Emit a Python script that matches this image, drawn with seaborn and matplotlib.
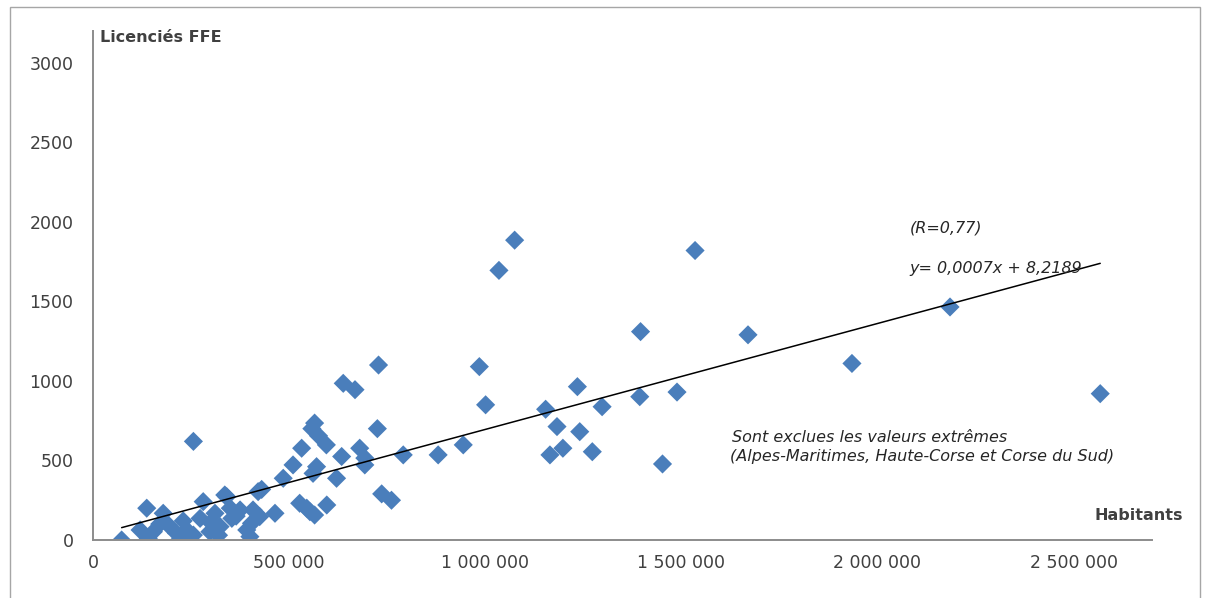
#!/usr/bin/env python3
# Licenciés FFE vs habitants par département

import pandas as pd
import matplotlib.pyplot as plt
import matplotlib.ticker as mticker
from matplotlib.patches import Rectangle
import seaborn as sns

# ---------data-----------------------------------------------------------------
habitants = [
    73000, 120000, 137000, 141000, 154000, 170000, 179000, 192000, 213000, 222000,
    230000, 239000, 256000, 256000, 273000, 281000, 298000, 300000, 311000, 320000,
    324000, 336000, 341000, 350000, 354000, 365000, 375000, 392000, 400000, 404000,
    408000, 421000, 425000, 430000, 464000, 485000, 510000, 527000, 532000, 545000,
    553000, 558000, 561000, 565000, 565000, 570000, 575000, 595000, 596000, 621000,
    634000, 638000, 668000, 680000, 693000, 693000, 725000, 728000, 736000, 761000,
    791000, 880000, 944000, 985000, 1001000, 1035000, 1075000, 1154000, 1165000, 1183000,
    1198000, 1235000, 1241000, 1273000, 1298000, 1394000, 1396000, 1452000, 1489000, 1535000,
    1670000, 1935000, 2185000, 2568000,
]
licencies = [
    0, 63, 200, 10, 52, 100, 168, 94, 42, 5,
    120, 63, 620, 31, 136, 241, 52, 110, 168, 30,
    84, 283, 272, 200, 136, 150, 189, 63, 21, 105,
    189, 304, 147, 318, 168, 388, 472, 231, 577, 200,
    178, 700, 419, 735, 157, 461, 655, 598, 220, 388,
    525, 985, 945, 577, 515, 472, 700, 1100, 290, 250,
    535, 535, 598, 1090, 850, 1695, 1885, 822, 535, 713,
    577, 964, 681, 555, 838, 901, 1310, 478, 930, 1820,
    1290, 1110, 1465, 920,
]
x_ticks = [0, 500000, 1000000, 1500000, 2000000, 2500000]
y_ticks = [0, 500, 1000, 1500, 2000, 2500, 3000]

df = pd.DataFrame({'habitants': habitants, 'licencies': licencies})

# ---------plot-----------------------------------------------------------------
sns.set_style('white')
plt.rcParams['font.family'] = ['DejaVu Sans']

fig = plt.figure(figsize=(12.06, 5.98), dpi=100)
ax = fig.add_axes([93 / 1206, 58 / 598, 1059 / 1206, 509 / 598])

sns.scatterplot(data=df, x='habitants', y='licencies', marker='D', s=95,
                color='#4a7ebb', edgecolor='none', ax=ax, zorder=2)
sns.regplot(data=df, x='habitants', y='licencies', scatter=False, ci=None,
            color='black', line_kws={'linewidth': 1.1, 'zorder': 3}, ax=ax)

ax.set_xlim(0, 2700000)
ax.set_ylim(0, 3200)
ax.set_xticks(x_ticks)
ax.set_yticks(y_ticks)
ax.xaxis.set_major_formatter(mticker.FuncFormatter(lambda v, p: f"{int(v):,}".replace(',', ' ')))
ax.set_xlabel('')
ax.set_ylabel('')

for side in ['top', 'right']:
    ax.spines[side].set_visible(False)
for side in ['left', 'bottom']:
    ax.spines[side].set_color('#8c8c8c')
    ax.spines[side].set_linewidth(1.4)
ax.tick_params(axis='both', which='major', direction='out', width=1,
               color='#8c8c8c', labelcolor='#404040', labelsize=12.5)
ax.tick_params(axis='x', length=7, pad=3)
ax.tick_params(axis='y', length=5, pad=9)

ax.text(17800, 3161, 'Licenciés FFE', fontsize=11.5, fontweight='bold',
        color='#404040', va='center', ha='left')
ax.text(2777800, 151, 'Habitants', fontsize=11.5, fontweight='bold',
        color='#404040', va='center', ha='right')

ital = {'style': 'italic', 'fontsize': 11.5, 'color': '#262626', 'ha': 'left'}
ax.text(2082000, 1962, '(R=0,77)', va='center', **ital)
ax.text(2082000, 1705, 'y= 0,0007x + 8,2189', va='center', **ital)
ax.text(1628000, 616, 'Sont exclues les valeurs extrêmes', va='baseline', **ital)
ax.text(1623000, 497, '(Alpes-Maritimes, Haute-Corse et Corse du Sud)', va='baseline', **ital)

# frame around the chart
fig.patches.append(Rectangle((10 / 1206, -0.01), 1190 / 1206, 0.998, transform=fig.transFigure,
                             fill=False, edgecolor='#a6a6a6', linewidth=1))

plt.savefig('out.png', dpi=100)
